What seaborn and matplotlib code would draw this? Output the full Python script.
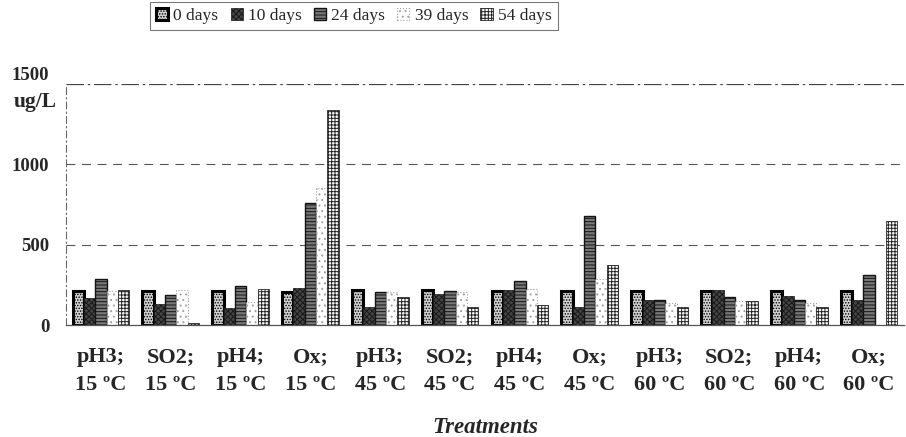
import numpy as np
import pandas as pd
import matplotlib
matplotlib.use("Agg")
import matplotlib.pyplot as plt
import seaborn as sns

treatments = ["pH3;\n15 ºC", "SO2;\n15 ºC", "pH4;\n15 ºC", "Ox;\n15 ºC",
              "pH3;\n45 ºC", "SO2;\n45 ºC", "pH4;\n45 ºC", "Ox;\n45 ºC",
              "pH3;\n60 ºC", "SO2;\n60 ºC", "pH4;\n60 ºC", "Ox;\n60 ºC"]
days = ["0 days", "10 days", "24 days", "39 days", "54 days"]

d0 = [214, 214, 210, 207, 215, 215, 213, 213, 212, 212, 212, 212]
d10 = [170, 132, 107, 233, 110, 193, 216, 110, 158, 220, 183, 158]
d24 = [289, 189, 245, 761, 203, 210, 272, 678, 158, 177, 158, 312]
d39 = [210, 220, 145, 855, 203, 205, 222, 284, 140, 152, 134, 0]
d54 = [220, 12, 226, 1340, 172, 110, 124, 376, 115, 152, 115, 645]

series = [d0, d10, d24, d39, d54]
df = pd.DataFrame({
    "treatment": np.repeat([treatments], len(days), axis=0).ravel(),
    "day": np.repeat(days, len(treatments)),
    "value": np.concatenate(series),
})

sns.set_style("white")
plt.rcParams["font.family"] = ["Liberation Serif", "DejaVu Serif"]
plt.rcParams["hatch.linewidth"] = 0.7

fig, ax = plt.subplots(figsize=(9.06, 4.37), dpi=100)
fig.subplots_adjust(left=66/906, right=904/906, top=1-84/437, bottom=1-325/437)

sns.barplot(data=df, x="treatment", y="value", hue="day", order=treatments,
            hue_order=days, width=0.81, gap=0, legend=False, ax=ax)

# styles for each series (scanned grayscale look)
styles = [
    dict(facecolor="#d0d0d0", hatch="......", edgecolor="black", linewidth=2.2, linestyle="-"),
    dict(facecolor="#444444", hatch="xxxxxx", edgecolor="#1a1a1a", linewidth=0.5, linestyle="-"),
    dict(facecolor="#777777", hatch="-----", edgecolor="#141414", linewidth=1.0, linestyle="-"),
    dict(facecolor="white", hatch="...", edgecolor="#a0a0a0", linewidth=0.8, linestyle=":"),
    dict(facecolor="white", hatch="+++++", edgecolor="#252525", linewidth=0.6, linestyle="-"),
]
for cont, st in zip(ax.containers, styles):
    for p in cont.patches:
        p.set_facecolor(st["facecolor"])
        p.set_hatch(st["hatch"])
        p.set_edgecolor(st["edgecolor"])
        p.set_linewidth(st["linewidth"])
        p.set_linestyle(st["linestyle"])

ax.set_ylim(0, 1500)
ax.set_xlim(-0.5, len(treatments) - 0.5)
ax.set_yticks([0, 500, 1000, 1500])
ax.set_yticklabels(["0", "500", "1000", "1500"], fontsize=13.5, fontweight="bold")
ax.tick_params(axis="y", length=0, pad=12)
ax.get_yticklabels()[-1].set_verticalalignment("bottom")

ax.set_xticks(range(len(treatments)))
ax.set_xticklabels(treatments, fontsize=16, fontweight="bold", linespacing=1.5)
ax.tick_params(axis="x", which="major", length=0, pad=16)
ax.set_xticks(np.arange(0.5, len(treatments) - 1, 1), minor=True)
ax.tick_params(axis="x", which="minor", length=6, width=0.8, color="#444444", direction="out")

for y in [500, 1000]:
    ax.axhline(y, color="#555555", linewidth=0.8, linestyle=(0, (8, 6)), zorder=0)
ax.axhline(1500, color="#444444", linewidth=0.9, linestyle=(0, (14, 3, 2, 3)), zorder=0)

for s in ["top", "right"]:
    ax.spines[s].set_visible(False)
ax.spines["left"].set_color("#666666")
ax.spines["left"].set_linestyle((0, (6, 3, 1, 3)))
ax.spines["left"].set_linewidth(0.8)
ax.spines["bottom"].set_color("#555555")
ax.spines["bottom"].set_linewidth(0.9)

ax.set_ylabel("")
ax.text(-0.011, 0.925, "ug/L", transform=ax.transAxes, ha="right", va="center",
        fontsize=15.5, fontweight="bold")
ax.set_xlabel("Treatments", fontsize=16.5, fontweight="bold", fontstyle="italic", labelpad=16)

leg = fig.legend(ax.containers, days, loc="upper left", bbox_to_anchor=(150/906, 1 - 2/437),
                 ncol=5, fontsize=12.5, frameon=True, fancybox=False, edgecolor="#555555",
                 handlelength=0.7, handleheight=0.7, handletextpad=0.3, columnspacing=0.7,
                 borderpad=0.35, borderaxespad=0)
leg.get_frame().set_linewidth(0.8)

fig.savefig("out.png", dpi=100)
